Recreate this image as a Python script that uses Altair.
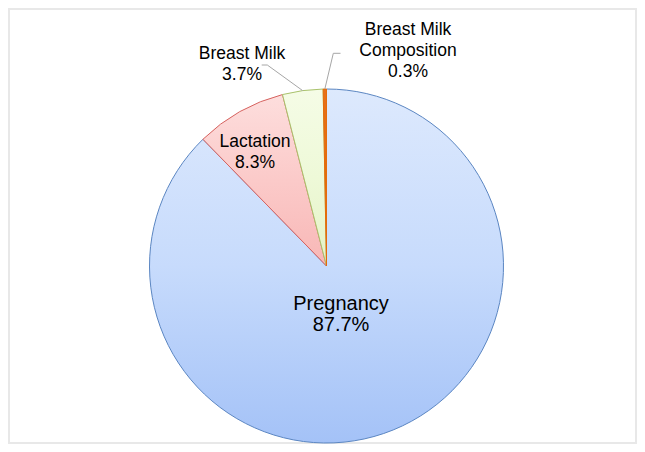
import math
import altair as alt
import pandas as pd

# ---------------- data ----------------
categories = ["Pregnancy", "Lactation", "Breast Milk", "Breast Milk Composition"]
shares = [87.7, 8.3, 3.7, 0.3]
label_lines = [["Pregnancy"], ["Lactation"], ["Breast Milk"], ["Breast Milk", "Composition"]]

# ---------------- layout / style ----------------
W, H = 629, 436
CX, CY, R = 318.5, 258.0, 177.0
FONT = "Liberation Sans"

fills = {
    "Pregnancy": ["#dde9fd", "#c7dbfc", "#a4c2f7"],
    "Lactation": ["#fddedd", "#fbcac9", "#f8b7b6"],
    "Breast Milk": ["#f5fce6", "#eef9d8", "#e4f3c6"],
    "Breast Milk Composition": ["#e8701a", "#e46c0a", "#d9620a"],
}
strokes = {
    "Pregnancy": "#5b86c2",
    "Lactation": "#d6625f",
    "Breast Milk": "#a9c26c",
    "Breast Milk Composition": "#e46c0a",
}
# label anchor (x centre, first-line baseline) and font size
label_anchor = {
    "Pregnancy": (333.0, 302.0, 20),
    "Lactation": (247.0, 138.5, 17.5),
    "Breast Milk": (234.0, 50.5, 17.5),
    "Breast Milk Composition": (400.0, 27.0, 17.5),
}
# leader lines: elbow and end points for outside labels
leaders = {
    "Breast Milk": [(259.3, 57.0), (253.7, 57.0)],
    "Breast Milk Composition": [(325.3, 45.3), (332.5, 45.3)],
}

# ---------------- derived tables ----------------
total = sum(shares)
rows, acc = [], 0.0
for cat, v, lines in zip(categories, shares, label_lines):
    start, end = acc, acc + v
    acc = end
    lx, ly, fs = label_anchor[cat]
    rows.append(dict(cat=cat, value=v, start=start, end=end,
                     label=lines + [f"{v}%"], lx=lx, ly=ly, fs=fs))
df = pd.DataFrame(rows)

lead_rows = []
for r in rows:
    if r["cat"] in leaders:
        mid = (r["start"] + r["end"]) / 2 / total * 2 * math.pi
        pts = [(CX + R * math.sin(mid), CY - R * math.cos(mid))] + leaders[r["cat"]]
        for i, (px, py) in enumerate(pts):
            lead_rows.append(dict(cat=r["cat"], order=i, px=px, py=py))
lead_df = pd.DataFrame(lead_rows)


def grad(cols):
    return alt.Gradient(
        gradient="linear",
        stops=[alt.GradientStop(color=cols[0], offset=0),
               alt.GradientStop(color=cols[1], offset=0.5),
               alt.GradientStop(color=cols[2], offset=1)],
        x1=0, x2=0, y1=0, y2=1,
    )


frame = alt.Chart(df).mark_rect(
    fill="white", fillOpacity=0, stroke="#e8e8e8", strokeWidth=2
).encode(x=alt.value(1), x2=alt.value(W - 1), y=alt.value(1), y2=alt.value(H - 1))

slices = []
for cat in categories:
    slices.append(
        alt.Chart(df)
        .transform_filter(alt.datum.cat == cat)
        .mark_arc(outerRadius=R, fill=grad(fills[cat]), stroke=strokes[cat], strokeWidth=1)
        .encode(
            theta=alt.Theta("start:Q", scale=alt.Scale(domain=[0, total])),
            theta2="end:Q",
            x=alt.value(CX),
            y=alt.value(CY),
        )
    )

lead = alt.Chart(lead_df).mark_line(color="#a6a6a6", strokeWidth=1).encode(
    x=alt.X("px:Q", scale=None, axis=None),
    y=alt.Y("py:Q", scale=None, axis=None),
    detail="cat:N",
    order="order:Q",
)

labels = alt.Chart(df).mark_text(
    font=FONT, align="center", baseline="alphabetic", lineHeight=21, color="#000000"
).encode(
    x=alt.X("lx:Q", scale=None, axis=None),
    y=alt.Y("ly:Q", scale=None, axis=None),
    text="label",
    size=alt.Size("fs:Q", scale=None, legend=None),
)

chart = (
    alt.layer(frame, *slices, lead, labels)
    .properties(width=W, height=H, padding=0, autosize="none", background="white")
    .configure_view(stroke=None)
)

chart.save("out.html", embed_options={"renderer": "svg", "actions": False})
